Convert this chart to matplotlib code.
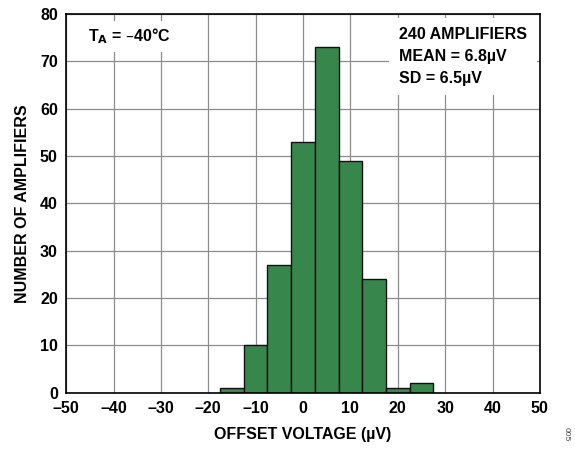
import matplotlib
matplotlib.use("Agg")
import matplotlib.pyplot as plt

# offset voltage histogram, 5 uV bins
bin_centers = [-15, -10, -5, 0, 5, 10, 15, 20, 25]
counts = [1, 10, 27, 53, 73, 49, 24, 1, 2]
bin_width = 5
x_ticks = [-50, -40, -30, -20, -10, 0, 10, 20, 30, 40, 50]
y_ticks = [0, 10, 20, 30, 40, 50, 60, 70, 80]

plt.rcParams["font.family"] = ["Liberation Sans", "DejaVu Sans"]
plt.rcParams["font.weight"] = "bold"

fig = plt.figure(figsize=(5.75, 4.5), dpi=100)
ax = fig.add_axes([0.115, 0.127, 0.824, 0.842])

ax.bar(bin_centers, counts, width=bin_width, color="#37874c",
       edgecolor="#111111", linewidth=1.0, zorder=3)

ax.set_xlim(-50, 50)
ax.set_ylim(0, 80)
ax.set_xticks(x_ticks)
ax.set_yticks(y_ticks)
ax.set_xticklabels([str(t).replace("-", "\u2013") for t in x_ticks])
ax.tick_params(length=0, labelsize=11.5, pad=6)
for lbl in ax.get_xticklabels() + ax.get_yticklabels():
    lbl.set_fontweight("bold")
ax.grid(True, color="#8c8c8c", linewidth=0.9, zorder=0)
for sp in ax.spines.values():
    sp.set_linewidth(1.2)
    sp.set_zorder(4)

ax.set_xlabel("OFFSET VOLTAGE (\u00b5V)", fontsize=11.5, fontweight="bold", labelpad=8)
ax.set_ylabel("NUMBER OF AMPLIFIERS", fontsize=11.5, fontweight="bold", labelpad=7)

ax.text(-45.4, 75.3, "T$_\\mathbf{A}$ = \u201340\u00b0C", fontsize=11.5, fontweight="bold",
        ha="left", va="center", zorder=5,
        bbox=dict(facecolor="white", edgecolor="none", pad=4))
ax.text(20.3, 71.0, "240 AMPLIFIERS\nMEAN = 6.8\u00b5V\nSD = 6.5\u00b5V", fontsize=11.5,
        fontweight="bold", ha="left", va="center", linespacing=1.55, zorder=5,
        bbox=dict(facecolor="white", edgecolor="none", pad=7))

fig.text(0.985, 0.035, "005", fontsize=6, rotation=270, ha="center", va="center",
         color="#444444", fontweight="normal")

fig.savefig("out.png", dpi=100)
